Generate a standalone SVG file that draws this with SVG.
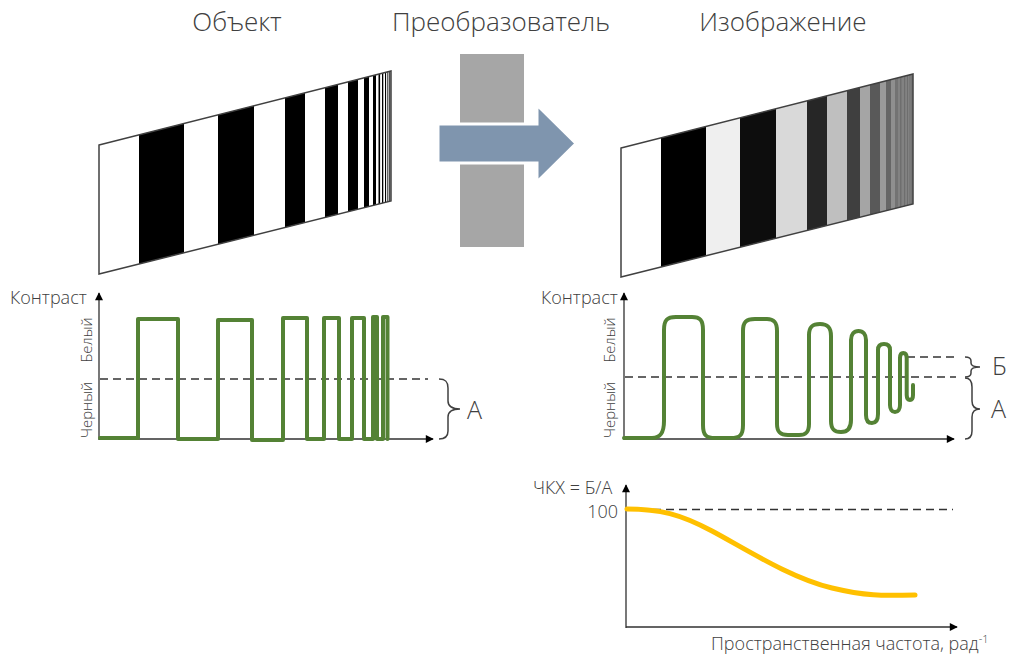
<svg xmlns="http://www.w3.org/2000/svg" width="1014" height="657" viewBox="0 0 1014 657">
  <style>
    .title { font-family: "Open Sans", "Noto Sans", "DejaVu Sans", sans-serif; font-size: 26px; font-weight: 300; fill: #404040; text-anchor: middle; }
    .lbl { font-family: "Open Sans", "Noto Sans", "DejaVu Sans", sans-serif; font-size: 18px; font-weight: 300; fill: #404040; }
    .vlbl { font-family: "Open Sans", "Noto Sans", "DejaVu Sans", sans-serif; font-size: 15px; font-weight: 300; fill: #404040; text-anchor: middle; }
    .big { font-family: "Open Sans", "Noto Sans", "DejaVu Sans", sans-serif; font-size: 25px; font-weight: 300; fill: #404040; }
    .axis { stroke: #303030; stroke-width: 1.3; fill: none; }
    .dash { stroke: #333; stroke-width: 1.3; stroke-dasharray: 8 5; fill: none; }
    .brace { stroke: #404040; stroke-width: 1.5; fill: none; }
    .wave { stroke: #548235; stroke-width: 4; fill: none; stroke-linejoin: round; stroke-linecap: round; }
    .mtf { stroke: #ffc000; stroke-width: 5; fill: none; stroke-linecap: round; }
    .frame { fill: none; stroke: #404040; stroke-width: 1.5; }
  </style>
  <defs>
    <marker id="tip" viewBox="0 0 10 10" refX="9" refY="5" markerUnits="userSpaceOnUse" markerWidth="9" markerHeight="8" orient="auto">
      <path d="M0,0 L10,5 L0,10 z" fill="#000"/>
    </marker>
    <!-- slanted test-chart outline -->
    <clipPath id="chart">
      <polygon points="99,145 391,71 391,201 99,274"/>
    </clipPath>
  </defs>

  <rect width="1014" height="657" fill="#fff"/>

  <!-- headings -->
  <text id="title-object" class="title" x="237" y="31">Объект</text>
  <text id="title-converter" class="title" x="501" y="31">Преобразователь</text>
  <text id="title-image" class="title" x="783" y="31">Изображение</text>

  <!-- object: black/white chirp bars -->
  <g id="object-pattern">
    <g clip-path="url(#chart)">
      <rect x="99" y="60" width="292" height="220" fill="#fff"/>
      <g fill="#000">
        <rect x="139" y="60" width="45" height="220"/>
        <rect x="218" y="60" width="36" height="220"/>
        <rect x="285" y="60" width="20" height="220"/>
        <rect x="325" y="60" width="13" height="220"/>
        <rect x="348" y="60" width="10" height="220"/>
        <rect x="364" y="60" width="5" height="220"/>
        <rect x="373" y="60" width="3" height="220"/>
        <rect x="378.5" y="60" width="1.6" height="220"/>
        <rect x="382" y="60" width="1.3" height="220"/>
        <rect x="385" y="60" width="1.1" height="220"/>
        <rect x="387.4" y="60" width="0.9" height="220"/>
        <rect x="389.3" y="60" width="0.7" height="220"/>
        <rect x="390.7" y="60" width="0.5" height="220"/>
      </g>
    </g>
    <polygon class="frame" points="99,145 391,71 391,201 99,274"/>
  </g>

  <!-- converter block -->
  <g id="converter">
    <rect x="460" y="54" width="64" height="193" fill="#a6a6a6"/>
  </g>

  <!-- transfer arrow -->
  <g id="connectors">
    <polygon points="438,124 537,124 537,105 576,143.5 537,182 537,163 438,163" fill="#7f95ae" stroke="#fff" stroke-width="3" stroke-linejoin="miter"/>
  </g>

  <!-- image: blurred chirp bars with falling contrast -->
  <g id="image-pattern" transform="translate(522,3)">
    <g clip-path="url(#chart)">
      <rect x="99" y="60" width="292" height="220" fill="#fff"/>
      <rect x="139" y="60" width="46" height="220" fill="#000"/>
      <rect x="184" y="60" width="35" height="220" fill="#efefef"/>
      <rect x="218" y="60" width="37" height="220" fill="#0d0d0d"/>
      <rect x="254" y="60" width="32" height="220" fill="#d9d9d9"/>
      <rect x="285" y="60" width="21" height="220" fill="#262626"/>
      <rect x="305" y="60" width="21" height="220" fill="#bfbfbf"/>
      <rect x="325" y="60" width="14" height="220" fill="#3f3f3f"/>
      <rect x="338" y="60" width="11" height="220" fill="#a5a5a5"/>
      <rect x="348" y="60" width="11" height="220" fill="#595959"/>
      <rect x="358" y="60" width="7" height="220" fill="#9a9a9a"/>
      <rect x="364" y="60" width="6" height="220" fill="#666"/>
      <rect x="369" y="60" width="5" height="220" fill="#8f8f8f"/>
      <rect x="373" y="60" width="4" height="220" fill="#737373"/>
      <rect x="376" y="60" width="15" height="220" fill="#828282"/>
      <g fill="#6e6e6e">
        <rect x="378" y="60" width="1.5" height="220"/>
        <rect x="382" y="60" width="1.2" height="220"/>
        <rect x="385" y="60" width="1" height="220"/>
        <rect x="387.5" y="60" width="0.8" height="220"/>
        <rect x="389.4" y="60" width="0.7" height="220"/>
      </g>
    </g>
    <polygon class="frame" points="99,145 391,71 391,201 99,274"/>
  </g>

  <!-- contrast profile of the object -->
  <g id="graph-object">
    <line class="axis" x1="99" y1="440" x2="99" y2="293" marker-end="url(#tip)"/>
    <line class="axis" x1="99" y1="439" x2="433" y2="439" marker-end="url(#tip)"/>
    <line class="dash" x1="100" y1="379" x2="428" y2="379"/>
    <text class="lbl" x="10" y="304">Контраст</text>
    <text class="vlbl" transform="translate(92,340) rotate(-90)">Белый</text>
    <text class="vlbl" transform="translate(92,410) rotate(-90)">Черный</text>
    <path class="wave" stroke-linejoin="miter" stroke-linecap="butt" d="M100 438 H138 V319 H178 V439 H218 V320 H252 V440 H283 V318 H307 V439 H324 V318 H339 V439 H352 V318 H364 V439 H373 V317 H377 V439 H383 V317 H387.5 V439"/>
    <path class="brace" d="M439 379 C446 379 448 382 448 388 V401 C448 406 451 409 460 409 C451 409 448 412 448 417 V431 C448 436 446 439 439 439"/>
    <text class="big" x="467" y="419">А</text>
  </g>

  <!-- contrast profile of the image -->
  <g id="graph-image">
    <line class="axis" x1="624" y1="440" x2="624" y2="293" marker-end="url(#tip)"/>
    <line class="axis" x1="624" y1="439" x2="954" y2="439" marker-end="url(#tip)"/>
    <line class="dash" x1="625" y1="377" x2="956" y2="377"/>
    <line class="dash" x1="907" y1="357" x2="956" y2="357"/>
    <text class="lbl" x="541" y="304">Контраст</text>
    <text class="vlbl" transform="translate(615,340) rotate(-90)">Белый</text>
    <text class="vlbl" transform="translate(615,410) rotate(-90)">Черный</text>
    <path class="wave" d="M624 438 H652 C661 438 664 432 664 421 V330 C664 320 667 317 676 317 H692 C700 317 703 320 703 330 V425 C703 435 706 438 715 438 H731 C740 438 743 435 743 425 V331 C743 322 746 319 755 319 H767 C774 319 777 322 777 331 V424 C777 432 780 435 788 435 H799 C806 435 809 432 809 424 V335 C809 327 812 324 820 324 C828 324 831 328 831 336 V421 C831 429 834 432 841 432 C848 432 851 428 851 420 V340 C851 334 854 331 858.5 331 C863 331 866 334 866 340 V415 C866 420 868 423 872 423 C876 423 878 420 878 414 V350 C878 346 880 344 884 344 C888 344 890 346 890 350 V405 C890 409 892 412 895 412 C898 412 900 409 900 405 V358 C900 355 901 353 903.3 353 C905.5 353 906.7 355 906.7 358 V395 C906.7 398 908 400 910 400 C912 400 913 398 913 395 V385"/>
    <path class="brace" d="M965 357 C969 357 971 358 971 361 V363 C971 365 973 367 980 367 C973 367 971 369 971 371 V373 C971 376 969 377 965 377"/>
    <path class="brace" d="M965 378 C970 378 972 381 972 387 V401 C972 406 974 409 980 409 C974 409 972 412 972 417 V431 C972 436 970 439 965 439"/>
    <text class="big" x="992" y="375">Б</text>
    <text class="big" x="991" y="418">А</text>
  </g>

  <!-- modulation transfer function -->
  <g id="graph-mtf">
    <line class="axis" x1="626" y1="628" x2="626" y2="485" marker-end="url(#tip)"/>
    <line class="axis" x1="626" y1="627" x2="957" y2="627" marker-end="url(#tip)"/>
    <line class="dash" x1="627" y1="509.5" x2="953" y2="509.5"/>
    <text class="lbl" x="533" y="494">ЧКХ = Б/А</text>
    <text class="lbl" x="618" y="518" font-size="17" text-anchor="end">100</text>
    <path class="mtf" d="M627 509 C660 509 680 514 712 531 S790 578 832 588 S892 595 915 595"/>
    <text class="lbl" x="711" y="650">Пространственная частота, рад<tspan font-size="11" dy="-7">-1</tspan></text>
  </g>
</svg>
